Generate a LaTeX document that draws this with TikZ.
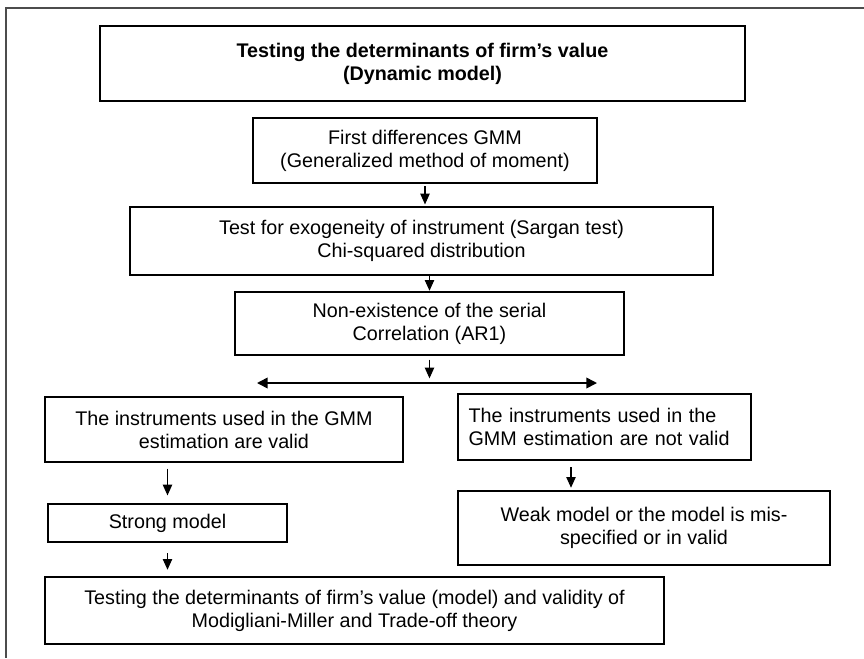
\documentclass[tikz,border=0pt]{standalone}
\usepackage{fontspec}
\setmainfont{Liberation Sans}
\usetikzlibrary{arrows.meta}

\begin{document}
\begin{tikzpicture}[x=0.75pt,y=-0.75pt,
  box/.style={draw,line width=0.9pt,align=center,inner sep=0pt,
    font=\fontsize{14.8}{17.3}\selectfont},
  arr/.style={line width=0.8pt,-{Triangle[length=8pt,width=7pt]}},
  frame/.style={draw=black!70,line width=1.3pt}]

  \useasboundingbox (0,0) rectangle (864,658);
  \draw[frame] (864,8)--(6,8)--(6,658);

  % main column
  \node[box,minimum width=483.75pt,minimum height=56.25pt,font=\fontsize{14.8}{17.3}\selectfont\bfseries] (title) at (422.5,63.5)
    {Testing the determinants of firm’s value\\(Dynamic model)};
  \node[box,minimum width=258pt,minimum height=48.75pt] (fd) at (425,150.5)
    {First differences GMM\\(Generalized method of moment)};
  \node[box,minimum width=437.25pt,minimum height=51pt] (test) at (421.5,241)
    {Test for exogeneity of instrument (Sargan test)\\Chi-squared distribution};
  \node[box,minimum width=291.75pt,minimum height=47.25pt] (nonex) at (429.5,323.5)
    {Non-existence of the serial\\Correlation (AR1)};

  % the two branches
  \node[box,minimum width=268.5pt,minimum height=48.75pt] (valid) at (224,429.5)
    {The instruments used in the GMM\\estimation are valid};
  \node[box,align=left,text width=204pt,inner xsep=7.9pt,minimum height=49.5pt] (notvalid) at (604.5,427)
    {The instruments used in the\\GMM estimation are not valid};
  \node[box,minimum width=179.25pt,minimum height=28.5pt] (strong) at (167.5,523)
    {Strong model};
  \node[box,minimum width=279pt,minimum height=55.5pt] (weak) at (644,528)
    {Weak model or the model is mis-\\specified or in valid};
  \node[box,minimum width=464.25pt,minimum height=50.25pt] (final) at (354.5,610.5)
    {Testing the determinants of firm’s value (model) and validity of\\Modigliani-Miller and Trade-off theory};

  \coordinate (split) at (429.5,383);
  \coordinate (splitL) at (257,383);
  \coordinate (splitR) at (597,383);
  \coordinate (arrR) at (571,0);

  \draw[arr,shorten <=2pt,shorten >=1.5pt](fd.south)--(fd.south |- test.north);
  \draw[arr,shorten >=0.5pt](nonex.north |- test.south)--(nonex.north);
  \draw[arr,shorten <=3pt,shorten >=3.5pt](nonex.south)--(split);
  \draw[arr,line width=1.2pt,{Triangle[length=8pt,width=8pt]}-{Triangle[length=8pt,width=8pt]}](splitL)--(splitR);

  \draw[arr,shorten <=4.5pt,shorten >=6pt](valid.south -| strong.north)--(strong.north);
  \draw[arr,shorten <=8pt,shorten >=5pt](strong.south)--(strong.south |- final.north);
  \draw[arr,shorten <=5pt,shorten >=2pt](notvalid.south -| arrR)--(weak.north -| arrR);

\end{tikzpicture}
\end{document}
